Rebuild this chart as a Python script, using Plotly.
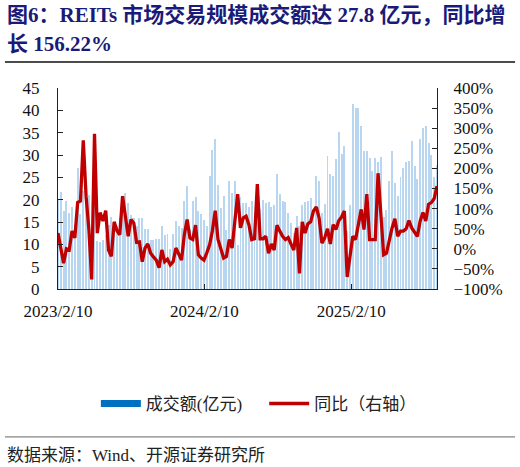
import plotly.graph_objects as go
import pandas as pd

# weekly data, first week 2023/2/10
weeks = pd.date_range("2023-02-10", periods=136, freq="7D")

# 成交额(亿元)
amount = [
    20, 21.8, 17.5, 19.6, 17.1, 18.4, 14.5, 27.2, 16.9, 22,
    19, 21, 12, 22, 10.8, 10.5, 10.9, 12, 14.3, 16.2,
    15, 14, 16, 17, 21.4, 19.3, 16.5, 15.8, 14, 16,
    15.8, 13.4, 13.4, 10.9, 11, 11.1, 11.2, 14.1, 12, 12.3,
    9, 12.3, 15.2, 14.1, 13.6, 19.7, 23, 13.5, 19.7, 20.7,
    17.4, 16.7, 15.4, 14, 25.2, 31.2, 33.5, 23.3, 18.2, 20.8,
    13.2, 24.2, 21.4, 24.1, 9.8, 20.5, 19.2, 19.2, 18.4, 19.6,
    17, 19.2, 18, 19.9, 19.2, 19.4, 18.4, 18.8, 25.8, 21.3,
    19.6, 19.4, 17, 14.8, 12.5, 16.3, 14, 18.7, 19.4, 19.6,
    20.3, 17, 25.2, 24.1, 17, 19, 29.7, 25.7, 25.4, 29,
    35.1, 30.3, 32, 13, 18.8, 41.5, 40.5, 40.5, 36.5, 30.8,
    31, 29.3, 26.5, 29.3, 28.4, 29.5, 16.2, 17.7, 24.2, 31,
    23.7, 20.8, 25, 27.2, 28.4, 28.7, 33.1, 27.5, 24.7, 33.5,
    36.1, 36.5, 32.6, 30, 25, 27.8,
]

# 同比（右轴）, %
yoy = [
    39, 5, -36, 0, -3, 44, 27, 115, 119, 270,
    131, 48, -76, 286, 39, 90, 69, 95, -3, -19,
    67, 45, 35, 131, 80, 31, 73, 64, 16, 17,
    -32, 2, 12, -11, -20, -28, -47, -3, -32, -26,
    -40, -32, 2, -11, -28, 35, 73, 27, 23, 59,
    -15, -23, -28, -10, 10, 45, 95, 23, 2, -23,
    -19, 23, 2, 73, 136, 52, 77, 81, 60, 23,
    25, 161, 25, 25, 31, -11, 12, -3, 59, 44,
    31, 23, 28, 12, -3, 52, -61, 67, 39, 62,
    67, 94, 104, 77, 14, 27, 50, 12, 60, 48,
    70, 79, 94, -70, -15, 31, 23, 64, 98, 48,
    136, 23, 23, 23, 188, 77, -15, -11, 23, 52,
    75, 31, 44, 44, 50, 70, 52, 40, 31, 69,
    90, 69, 111, 115, 125, 156.22,
]

x_tick_vals = ["2023-02-10", "2024-02-10", "2025-02-10"]
x_tick_text = ["2023/2/10", "2024/2/10", "2025/2/10"]

FONT = "Liberation Serif, Noto Sans CJK SC, serif"
NAVY = "#1a1a78"

fig = go.Figure()

fig.add_trace(go.Bar(
    x=weeks, y=amount,
    width=2.4 * 86400000,
    marker=dict(color="#b8d6ef", line=dict(width=0)),
    showlegend=False,
))
# legend stand-in for the bars (flat blue swatch); ideographic space widens the gap
fig.add_trace(go.Scatter(
    x=[None], y=[None], mode="lines",
    line=dict(color="#0070c0", width=7),
    name="成交额(亿元)\u3000",
))
fig.add_trace(go.Scatter(
    x=weeks, y=yoy, yaxis="y2", mode="lines",
    line=dict(color="#c00000", width=3.3),
    name="同比（右轴）",
))

axis_common = dict(
    showgrid=False, zeroline=False,
    showline=True, linecolor="#222", linewidth=1,
    ticks="inside", ticklen=5, tickcolor="#222",
    tickfont=dict(family=FONT, size=17, color="#111"),
)

fig.update_layout(
    width=520, height=467,
    margin=dict(l=58, r=83, t=88, b=178),
    paper_bgcolor="white", plot_bgcolor="white",
    font=dict(family=FONT, color="#111"),
    bargap=0,
    xaxis=dict(
        type="date",
        range=[weeks[0], weeks[-1]],
        tickvals=x_tick_vals, ticktext=x_tick_text,
        ticklabelstandoff=7,
        **axis_common,
    ),
    yaxis=dict(range=[0, 45], dtick=5, ticklabelstandoff=14, **axis_common),
    yaxis2=dict(
        range=[-100, 400], dtick=50, ticksuffix="%",
        overlaying="y", side="right", ticklabelstandoff=12,
        **axis_common,
    ),
    legend=dict(
        orientation="h", x=0.53, xanchor="center",
        y=-0.572, yanchor="middle",
        font=dict(family=FONT, size=17, color="#222"),
        itemwidth=40, bgcolor="rgba(0,0,0,0)",
    ),
)

# title (two lines) and source
fig.add_annotation(
    text="<b>图6：REITs 市场交易规模成交额达 27.8 亿元，同比增</b>",
    xref="paper", yref="paper", x=-0.14, y=1.363,
    xanchor="left", yanchor="middle", showarrow=False,
    font=dict(family=FONT, size=21, color=NAVY),
)
fig.add_annotation(
    text="<b>长 156.22%</b>",
    xref="paper", yref="paper", x=-0.14, y=1.217,
    xanchor="left", yanchor="middle", showarrow=False,
    font=dict(family=FONT, size=21, color=NAVY),
)
fig.add_shape(type="line", xref="paper", yref="paper",
              x0=-0.14, x1=1.206, y0=1.129, y1=1.129,
              line=dict(color="#111", width=1.5))
fig.add_shape(type="line", xref="paper", yref="paper",
              x0=-0.14, x1=1.206, y0=-0.736, y1=-0.736,
              line=dict(color="#666", width=1))
fig.add_annotation(
    text="数据来源：Wind、开源证券研究所",
    xref="paper", yref="paper", x=-0.14, y=-0.826,
    xanchor="left", yanchor="middle", showarrow=False,
    font=dict(family=FONT, size=17, color="#222"),
)

# page body has a default 8px margin; drop it so the figure fills the window
fig.write_html("out.html", config={"displayModeBar": False},
               post_script="document.body.style.margin='0';")
